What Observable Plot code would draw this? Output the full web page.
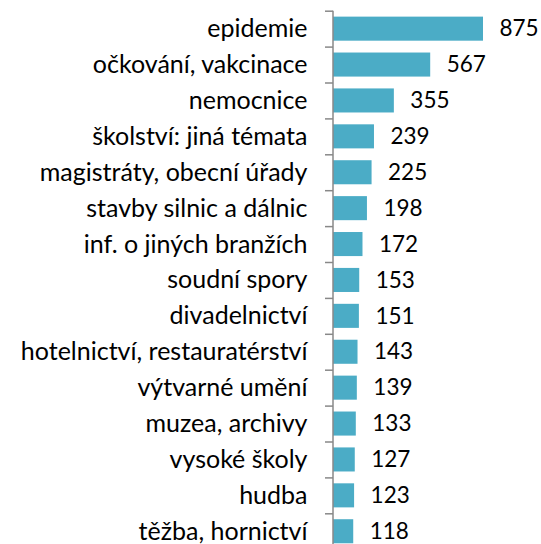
<!DOCTYPE html>
<html>
<head>
<meta charset="utf-8">
<script src="https://cdn.jsdelivr.net/npm/d3@7"></script>
<script src="https://cdn.jsdelivr.net/npm/@observablehq/plot@0.6"></script>
<style>
  html, body { margin: 0; padding: 0; background: #fff; }
  #chart svg { display: block; }
</style>
</head>
<body>
<div id="chart"></div>
<script>
const categories = [
  "epidemie",
  "očkování, vakcinace",
  "nemocnice",
  "školství: jiná témata",
  "magistráty, obecní úřady",
  "stavby silnic a dálnic",
  "inf. o jiných branžích",
  "soudní spory",
  "divadelnictví",
  "hotelnictví, restauratérství",
  "výtvarné umění",
  "muzea, archivy",
  "vysoké školy",
  "hudba",
  "těžba, hornictví"
];
const values = [875, 567, 355, 239, 225, 198, 172, 153, 151, 143, 139, 133, 127, 123, 118];

const data = categories.map((c, i) => ({c, v: values[i]}));

const yTop = 10.7, yBottom = 549.2;
const step = (yBottom - yTop) / categories.length;

const chart = Plot.plot({
  width: 541,
  height: 544,
  marginLeft: 333,
  marginRight: 58,
  marginTop: yTop,
  marginBottom: 0,
  style: {fontFamily: "Lato, 'Open Sans', sans-serif", fontSize: "25px", color: "#000", background: "#fff"},
  x: {domain: [0, 875], axis: null},
  y: {domain: categories, range: [yTop, yBottom], paddingInner: 0.33, paddingOuter: 0.165, round: false, axis: null},
  marks: [
    Plot.barX(data, {x: "v", y: "c", fill: "#4BACC6"}),
    Plot.text(data, {x: "v", y: "c", text: d => String(d.v), textAnchor: "start", dx: 16, fontSize: 22.5, fill: "#000"}),
    Plot.ruleX([0], {stroke: "#888", strokeWidth: 1.5, dx: -0.5}),
    Plot.axisY({anchor: "left", tickSize: 8, dy: -step / 2, tickFormat: () => "", stroke: "#888", strokeWidth: 1.5, strokeOpacity: 1, label: null}),
    Plot.axisY({anchor: "left", tickSize: 0, tickPadding: 26, fontSize: 25, fill: "#000", label: null})
  ]
});
document.getElementById("chart").appendChild(chart);
</script>
</body>
</html>
